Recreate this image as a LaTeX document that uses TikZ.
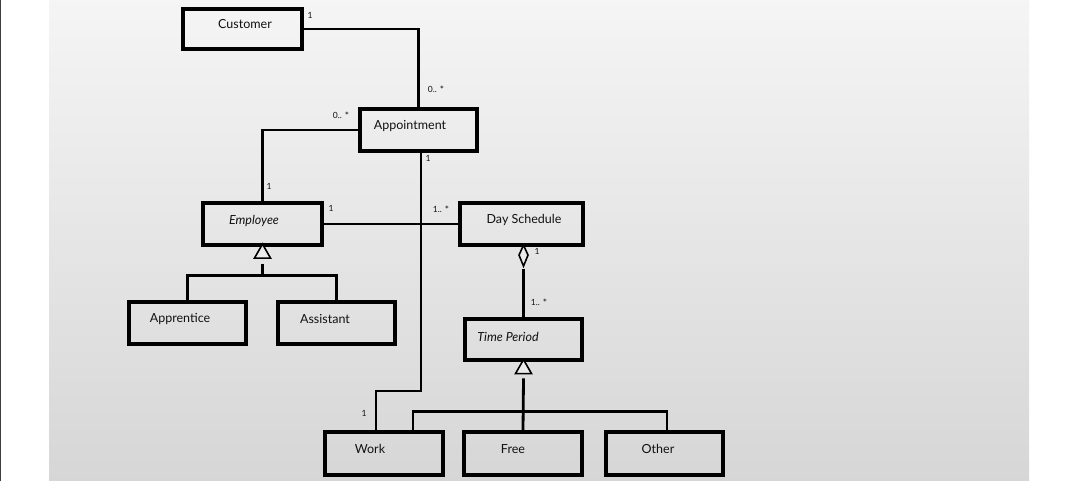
\documentclass[tikz,border=0pt]{standalone}
\usepackage{fontspec}
\setmainfont{Lato}
\usetikzlibrary{calc}
\definecolor{frame}{HTML}{3A3F45}
\definecolor{ink}{HTML}{111111}
% multiplicity star, set at mid height
\newcommand{\mstar}{\raisebox{-1.6pt}{\fontsize{10}{10}\selectfont *}}
\begin{document}
\begin{tikzpicture}[x=1pt,y=-1pt,
  cls/.style={draw=black,line width=3.2pt,fill=none,inner sep=0pt},
  txt/.style={inner sep=0pt,font=\fontsize{12.5}{14}\selectfont,text=ink},
  itx/.style={txt,font=\fontsize{12.5}{14}\selectfont\itshape},
  mult/.style={inner sep=0pt,font=\fontsize{8.5}{10}\selectfont,text=ink},
  conn/.style={line width=2.8pt,line join=miter},
  thin/.style={line width=2pt},
  gen/.style={line width=1.6pt,fill=white!92!black,line join=miter}]
\useasboundingbox (0,0) rectangle (1075,481);
% page background
\fill[white] (0,0) rectangle (1075,481);
\shade[top color=black!4,bottom color=black!16] (49,0) rectangle (1029,481);
\draw[frame,line width=1.4pt] (0.7,0) -- (0.7,481);

% classes
\node[cls,minimum width=119,minimum height=40] (cust) at (242.5,29) {};
\node[cls,minimum width=117,minimum height=42] (appt) at (418.5,130) {};
\node[cls,minimum width=119,minimum height=42] (emp)  at (262.5,224) {};
\node[cls,minimum width=123,minimum height=42] (day)  at (521.5,224) {};
\node[cls,minimum width=117,minimum height=41] (tp)   at (523.5,339.5) {};
\node[cls,minimum width=117,minimum height=42] (appr) at (187.5,323) {};
\node[cls,minimum width=117,minimum height=42] (asst) at (336.5,323) {};
\node[cls,minimum width=118,minimum height=43] (work) at (384,453.5) {};
\node[cls,minimum width=118,minimum height=43] (free) at (523,453.5) {};
\node[cls,minimum width=117,minimum height=43] (other) at (664.5,453.5) {};

% class names
\node[txt] at (245,24) {Customer};
\node[txt] at (410,126) {Appointment};
\node[itx] at (254,221) {Employee};
\node[txt] at (524,220) {Day Schedule};
\node[itx] at (508,337) {Time Period};
\node[txt] at (180,319) {Apprentice};
\node[txt] at (325,319) {Assistant};
\node[txt] at (370,449) {Work};
\node[txt] at (513,449) {Free};
\node[txt] at (658,449) {Other};

% associations
\draw[conn] (cust.east) -| (appt.north);
\draw[conn] (appt.west) -| (emp.north);
\draw[thin] (emp.east) -- (day.west);
\draw[thin] ([xshift=2.5]appt.south) -- ++(0,238) -| ([xshift=-8]work.north);

% aggregation Day Schedule -> Time Period
\coordinate (dtop) at (tp.north |- day.south);
\draw[line width=1.6pt,fill=white!92!black,line join=miter]
  ([yshift=1.5]dtop) -- ++(-4.5,10) -- ++(4.5,11) -- ++(4.5,-11) -- cycle;
\draw[conn] ($(dtop)+(0,22.5)$) -- (tp.north);

% generalization Employee
\draw[gen] ([yshift=2.5]emp.south) -- ++(-8,14) -- ++(16,0) -- cycle;
\coordinate (ebar) at ($(emp.south)+(0,29)$);
\draw[conn] ($(emp.south)+(0,17.3)$) -- (ebar);
\draw[conn] (appr.north) |- (ebar) -| (asst.north);

% generalization Time Period
\draw[gen] ([yshift=2]tp.south) -- ++(-8,14) -- ++(16,0) -- cycle;
\coordinate (tbar) at ($(free.north)+(0,-19)$);
\draw[conn] ($(tp.south)+(0,16.8)$) -- (free.north);
\draw[conn] ([xshift=29]work.north) |- (tbar) -| ([xshift=2.5]other.north);

% multiplicities
\node[mult] (m1) at (310,15) {1};
\node[mult] (m2) at (436,90) {0.. \mstar};
\node[mult] (m3) at (341,116) {0.. \mstar};
\node[mult] (m4) at (428,158) {1};
\node[mult] (m5) at (269,186) {1};
\node[mult] (m6) at (331,208) {1};
\node[mult] (m7) at (441,210) {1.. \mstar};
\node[mult] (m8) at (537,251) {1};
\node[mult] (m9) at (539,303) {1.. \mstar};
\node[mult] (m10) at (364,413) {1};
\end{tikzpicture}
\end{document}
